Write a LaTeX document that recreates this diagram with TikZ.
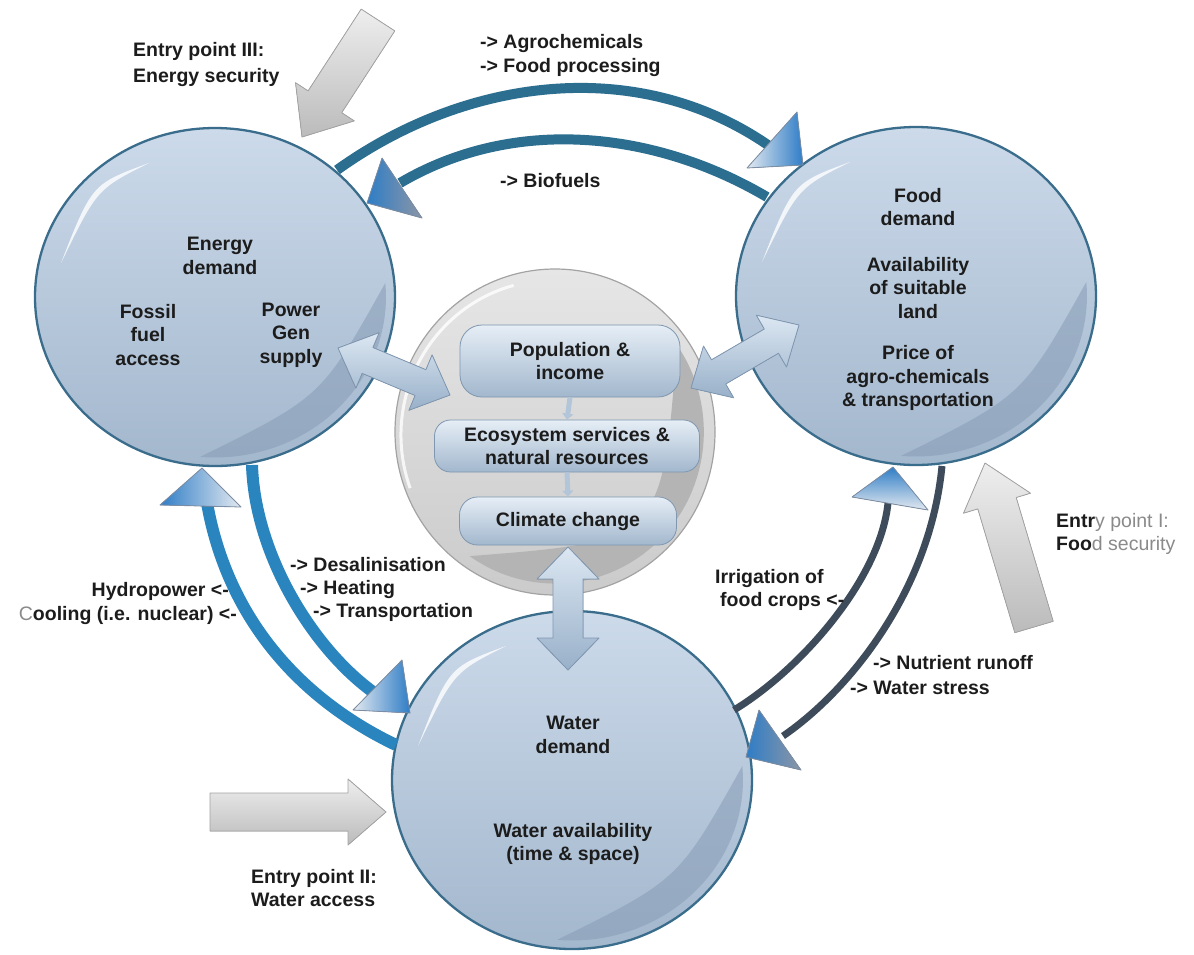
\documentclass[tikz,border=0pt]{standalone}
\usepackage{fontspec}
\newfontfamily\lab{Liberation Sans}
\usetikzlibrary{shapes.geometric,arrows.meta}
\definecolor{bubtop}{HTML}{CCDAEA}
\definecolor{bubbot}{HTML}{A3B7CD}
\definecolor{bubedge}{HTML}{3A6D8C}
\definecolor{bubdark}{HTML}{8A9FB8}
\definecolor{arcTop}{HTML}{2B6E8F}
\definecolor{arcLeft}{HTML}{2A84BE}
\definecolor{arcRight}{HTML}{3D4B5A}
\definecolor{headBlue}{HTML}{2F7DC6}
\definecolor{headLight}{HTML}{E3E9F0}
\definecolor{headGray}{HTML}{8B96A6}
\definecolor{headEdge}{HTML}{7D8DA3}
\definecolor{grayTop}{HTML}{EEEEEE}
\definecolor{grayBot}{HTML}{BBBBBB}
\definecolor{grayEdge}{HTML}{A3A3A3}
\definecolor{coreTop}{HTML}{E6E6E6}
\definecolor{coreBot}{HTML}{CBCBCB}
\definecolor{coreDark}{HTML}{B4B4B4}
\definecolor{boxTop}{HTML}{E6EEF6}
\definecolor{boxBot}{HTML}{A2B7CD}
\definecolor{boxEdge}{HTML}{7F97B0}
\definecolor{dblTop}{HTML}{DCE7F2}
\definecolor{dblBot}{HTML}{98B0C9}
\definecolor{dblEdge}{HTML}{8098B2}
\definecolor{subc}{HTML}{B3C5D8}
\definecolor{txt}{HTML}{1C1C1C}
\definecolor{lighttxt}{HTML}{8A8A8A}
\newcommand{\bubfx}[1]{%
  \begin{scope}[shift={(#1.center)}]
    \fill[bubdark, opacity=0.6] (170.3,14.0) arc[start angle=5, end angle=-95, x radius=171, y radius=160.5]
       .. controls (106.5,-99.95) .. (170.3,14.0) -- cycle;
    \fill[white, opacity=0.8] (-66,134) .. controls (-123,113) .. (-154,34)
       .. controls (-118,108) .. (-66,134) -- cycle;
  \end{scope}}
\begin{document}
\begin{tikzpicture}[x=1pt,y=1pt,
  bubble/.style={ellipse, minimum width=360pt, minimum height=338pt, inner sep=0pt,
     top color=bubtop, bottom color=bubbot, draw=bubedge, line width=2.3pt},
  core/.style={ellipse, minimum width=320pt, minimum height=326pt, inner sep=0pt,
     top color=coreTop, bottom color=coreBot, draw=grayEdge, line width=1.2pt},
  lbl/.style={font=\lab\bfseries\fontsize{19.5}{23.5}\selectfont, text=txt, inner sep=0pt},
  box/.style={lbl, align=center, rectangle, rounded corners=18pt, top color=boxTop,
     bottom color=boxBot, draw=boxEdge, line width=0.8pt},
  subarrow/.style={draw=subc, line width=5pt, -{Triangle[width=11pt,length=6pt]}},
  arcT/.style={draw=arcTop, line width=10pt},
  arcL/.style={draw=arcLeft, line width=12pt},
  arcR/.style={draw=arcRight, line width=7pt},
  head/.style={draw=headEdge, line width=0.8pt, line join=round},
  grayarrow/.style={top color=grayTop, bottom color=grayBot, draw=grayEdge, line width=0.8pt, line join=round},
  dbl/.style={top color=dblTop, bottom color=dblBot, draw=dblEdge, line width=0.8pt, line join=round}
]
\useasboundingbox (0,0) rectangle (1194,-954);
\fill[white] (0,0) rectangle (1194,-954);

% central grey disc
\node[core] (core) at (555,-432) {};
\begin{scope}[shift={(core.center)}]
  \fill[coreDark] (121.9,87.0) arc[start angle=35, end angle=-125, x radius=148.8, y radius=151.6]
     .. controls (107.1,-109.0) .. (121.9,87.0) -- cycle;
  \draw[white, opacity=0.8, line width=3pt] (-41.4,146.6) arc[start angle=105, end angle=200, x radius=152, y radius=155];
\end{scope}

% bubbles
\node[bubble] (energy) at (215,-297) {};
\node[bubble] (food) at (916,-296) {};
\node[bubble] (water) at (572,-780) {};
\bubfx{energy}
\bubfx{food}
\bubfx{water}

% central boxes
\node[box, minimum width=220pt, minimum height=72pt, rounded corners=22pt] (pop) at (570,-361) {Population \&\\income};
\node[box, minimum width=265pt, minimum height=52pt, rounded corners=16pt] (eco) at (567,-446) {Ecosystem services \&\\natural resources};
\node[box, minimum width=217pt, minimum height=48pt, rounded corners=18pt] (clim) at (568,-521) {Climate change};
\draw[subarrow] (pop.south) -- (eco.north);
\draw[subarrow] (eco.south) -- (clim.north);

% arc end points
\coordinate (tA1) at (337,-170);
\coordinate (tA2) at (775,-150);
\coordinate (tB1) at (767,-197);
\coordinate (tB2) at (400,-183);
\coordinate (lA1) at (396,-745);
\coordinate (lA2) at (207,-503);
\coordinate (lB1) at (252,-465);
\coordinate (lB2) at (385,-700);
\coordinate (rA1) at (734,-710);
\coordinate (rA2) at (888,-503);
\coordinate (rB1) at (942,-466);
\coordinate (rB2) at (783,-736);

% energy <-> food
\draw[arcT] (tA1) .. controls (467,-76.6) and (642,-53.6) .. (tA2);
\draw[arcT] (tB1) .. controls (653.6,-130.2) and (513.4,-116.2) .. (tB2);
\filldraw[head, left color=headLight, right color=headBlue] (797,-112) -- (747,-168) -- (803,-165) -- cycle;
\filldraw[head, left color=headBlue, right color=headGray] (382,-158) -- (367,-203) -- (422,-218) -- cycle;

% energy <-> water
\draw[arcL] (lA1) .. controls (296,-697) and (227,-615) .. (lA2);
\draw[arcL] (lB1) .. controls (255,-560) and (320,-660) .. (lB2);
\filldraw[head, left color=headBlue, right color=headLight] (202,-468) -- (160,-505) -- (241,-507) -- cycle;
\filldraw[head, left color=headLight, right color=headBlue] (402,-660) -- (353,-710) -- (410,-713) -- cycle;

% food <-> water
\draw[arcR] (rA1) .. controls (800,-670) and (880,-580) .. (rA2);
\draw[arcR] (rB1) .. controls (930,-590) and (850,-690) .. (rB2);
\filldraw[head, top color=headBlue, bottom color=headLight] (893,-467) -- (852,-497) -- (928,-510) -- cycle;
\filldraw[head, left color=headBlue, right color=headGray] (759,-710) -- (746,-757) -- (801,-770) -- cycle;

% double arrows to the core
\filldraw[dbl] (338,-348) -- (379.1,-332.7) -- (372.9,-347.5) -- (425.9,-369.7) -- (432.1,-354.9)
   -- (450,-395) -- (408.9,-410.3) -- (415.1,-395.5) -- (362.1,-373.3) -- (355.9,-388.1) -- cycle;
\filldraw[dbl] (691,-388) -- (703.5,-346.0) -- (711.5,-359.8) -- (764.3,-329.0) -- (756.3,-315.2)
   -- (799,-325) -- (786.5,-367.0) -- (778.5,-353.2) -- (725.7,-384.0) -- (733.7,-397.8) -- cycle;
\filldraw[dbl] (568,-547) -- (599,-579) -- (583,-579) -- (583,-638) -- (599,-638)
   -- (568,-670) -- (537,-638) -- (553,-638) -- (553,-579) -- (537,-579) -- cycle;

% entry point arrows
\filldraw[grayarrow] (361.2,-9.1) -- (394.8,-30.9) -- (341.7,-112.7) -- (354.3,-120.9) -- (302,-137)
   -- (295.5,-82.7) -- (308.1,-90.9) -- cycle;
\filldraw[grayarrow] (1014.8,-632.7) -- (1053.2,-621.3) -- (1016.2,-497.5) -- (1030.5,-493.2) -- (985,-463)
   -- (963.5,-513.2) -- (977.8,-508.9) -- cycle;
\filldraw[grayarrow] (210,-793) -- (348,-793) -- (348,-779) -- (386,-812) -- (348,-845) -- (348,-831) -- (210,-831) -- cycle;

% labels
\node[lbl, align=left, anchor=west, font=\lab\bfseries\fontsize{19.5}{26}\selectfont] (e3txt) at (133,-64) {Entry point III:\\Energy security};
\node[lbl, align=left, anchor=west] (agro) at (480,-55.5) {-> Agrochemicals\\-> Food processing};
\node[lbl, anchor=west] (bio) at (500,-181) {-> Biofuels};
\node[lbl, align=center] (edem) at (220,-256) {Energy\\demand};
\node[lbl, align=center] (fossil) at (148,-335) {Fossil\\fuel\\access};
\node[lbl, align=center] (power) at (291,-335) {Power\\Gen\\supply};
\node[lbl, align=center] (fdem) at (918,-207) {Food\\demand};
\node[lbl, align=center] (avail) at (918,-288) {Availability\\of suitable\\land};
\node[lbl, align=center] (price) at (918,-378) {Price of\\agro-chemicals\\\& transportation};
\node[lbl, anchor=west] (desal) at (290,-565) {-> Desalinisation};
\node[lbl, anchor=west] (heat) at (300,-589) {-> Heating};
\node[lbl, anchor=west] (trans) at (313,-612) {-> Transportation};
\node[lbl, anchor=east] (hydro) at (229,-591) {Hydropower <-};
\node[lbl, anchor=east] (cool) at (237,-615) {{\mdseries\color{lighttxt}C}ooling (i.e. nuclear) <-};
\node[lbl, anchor=west] (irr1) at (715,-578) {Irrigation of};
\node[lbl, anchor=west] (irr2) at (720,-601) {food crops <-};
\node[lbl, anchor=west] (nut) at (873,-663) {-> Nutrient runoff};
\node[lbl, anchor=west] (wst) at (850,-688) {-> Water stress};
\node[lbl, align=left, anchor=west] (e1txt) at (1056,-534) {Entr{\mdseries\color{lighttxt}y point I:}\\Foo{\mdseries\color{lighttxt}d security}};
\node[lbl, align=center] (wdem) at (573,-735) {Water\\demand};
\node[lbl, align=center] (wavail) at (573,-844) {Water availability\\(time \& space)};
\node[lbl, align=left, anchor=west] (e2txt) at (251,-888) {Entry point II:\\Water access};
\end{tikzpicture}
\end{document}
